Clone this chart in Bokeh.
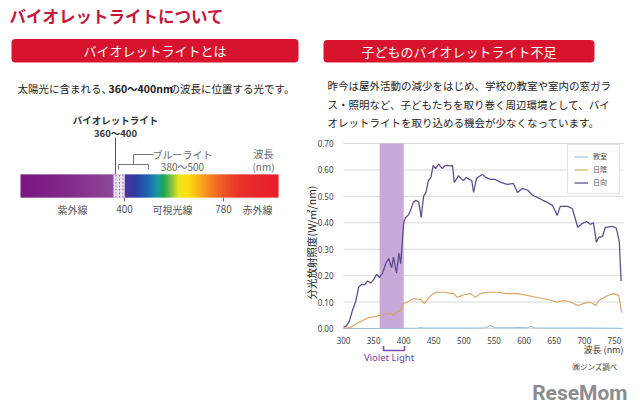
import math
from bokeh.plotting import figure
from bokeh.models import Range1d, Legend, LegendItem
from bokeh.core.properties import value
from bokeh.embed import file_html
from bokeh.resources import INLINE

JP = "Noto Sans CJK JP"

# ---------------- texts ----------------
title_text = "バイオレットライトについて"
left_header = "バイオレットライトとは"
right_header = "子どものバイオレットライト不足"
intro_pre = "太陽光に含まれる、"
intro_bold = "360〜400nm"
intro_post = "の波長に位置する光です。"
paragraph_lines = [
    "昨今は屋外活動の減少をはじめ、学校の教室や室内の窓ガラ",
    "ス・照明など、子どもたちを取り巻く周辺環境として、バイ",
    "オレットライトを取り込める機会が少なくなっています。",
]
violet_label = ["バイオレットライト", "360〜400"]
blue_label = ["ブルーライト", "380〜500"]
wave_label = ["波長", "(nm)"]
spectrum_labels = ["紫外線", "400", "可視光線", "780", "赤外線"]
y_axis_label = "分光放射照度(W/㎡/nm)"
x_axis_label = "波長 (nm)"
band_label = "Violet Light"
source_note = "㈱ジンズ調べ"
logo_text = "ReseMom"

# ---------------- chart data ----------------
series_names = ["教室", "日陰", "日向"]
series_colors = ["#93bfd8", "#d9a35f", "#5d4a8c"]

nm_room = [300, 400, 425, 428, 431, 440, 500, 536, 544, 551, 580, 590, 600, 606, 611, 616, 650, 700, 762]
val_room = [0.0, 0.001, 0.002, 0.004, 0.002, 0.002, 0.002, 0.003, 0.011, 0.003, 0.003, 0.004, 0.003,
            0.003, 0.009, 0.003, 0.002, 0.002, 0.001]

nm_shade = [300, 312, 325, 340, 353, 361, 370, 378, 383, 389, 395, 400, 406, 416, 428, 434, 445, 453,
            466, 483, 489, 500, 511, 519, 528, 539, 556, 572, 589, 606, 622, 639, 655, 666, 677, 689,
            699, 710, 719, 724, 739, 749, 757, 762]
val_shade = [0.0, 0.005, 0.023, 0.04, 0.046, 0.05, 0.055, 0.058, 0.05, 0.062, 0.068, 0.095, 0.10,
             0.113, 0.11, 0.095, 0.125, 0.137, 0.137, 0.132, 0.118, 0.128, 0.132, 0.118, 0.133, 0.137,
             0.137, 0.132, 0.132, 0.125, 0.117, 0.11, 0.10, 0.106, 0.10, 0.087, 0.095, 0.10, 0.087,
             0.106, 0.125, 0.132, 0.125, 0.06]

nm_sun = [300, 305, 310, 315, 320, 325, 330, 335, 340, 345, 350, 355, 360, 365, 370, 375, 380, 383,
          388, 392, 395, 398, 400, 403, 408, 411, 416, 420, 425, 429, 433, 437, 441, 445, 449, 453,
          458, 464, 468, 473, 478, 481, 484, 491, 495, 499, 504, 508, 513, 516, 521, 525, 531, 536,
          544, 552, 561, 572, 582, 589, 597, 606, 614, 622, 631, 639, 647, 655, 660, 672, 680, 689,
          697, 704, 710, 715, 720, 724, 730, 735, 747, 753, 758, 761]
val_sun = [0.005, 0.01, 0.03, 0.07, 0.10, 0.155, 0.167, 0.165, 0.18, 0.172, 0.185, 0.205, 0.193,
           0.21, 0.245, 0.265, 0.23, 0.27, 0.21, 0.285, 0.245, 0.34, 0.40, 0.42, 0.43, 0.445, 0.478,
           0.485, 0.478, 0.42, 0.50, 0.515, 0.56, 0.57, 0.617, 0.605, 0.622, 0.605, 0.615, 0.617,
           0.615, 0.617, 0.553, 0.578, 0.568, 0.56, 0.572, 0.565, 0.56, 0.515, 0.568, 0.575, 0.583,
           0.572, 0.564, 0.564, 0.553, 0.545, 0.549, 0.515, 0.53, 0.523, 0.504, 0.496, 0.485, 0.477,
           0.466, 0.428, 0.462, 0.462, 0.454, 0.383, 0.398, 0.405, 0.394, 0.40, 0.326, 0.345, 0.348,
           0.383, 0.386, 0.38, 0.33, 0.18]

violet_band = [360, 400]
x_limits = [300, 765]
y_limits = [0.0, 0.70]
x_ticks = [300, 350, 400, 450, 500, 550, 600, 650, 700, 750]
y_ticks = [0.0, 0.1, 0.2, 0.3, 0.4, 0.5, 0.6, 0.7]
x_tick_labels = [str(t) for t in x_ticks]
y_tick_labels = ["%.2f" % t for t in y_ticks]

RED = "#d7132e"
TITLE_RED = "#c4173d"

# ---------------- page figure (pixel coordinates, y downwards) ----------------
p = figure(width=640, height=418, x_range=Range1d(0, 640), y_range=Range1d(418, 0),
           output_backend="svg", toolbar_location=None, x_axis_location=None,
           y_axis_location=None, min_border=0, outline_line_color=None)
p.grid.visible = False


def txt(g, x, y, s, size, color="#333333", align="left", bold=False, font=JP, angle=0.0):
    g.text(x=[x], y=[y], text=[s], text_font=value(font), text_font_size=f"{size}px",
           text_color=color, text_align=align, text_baseline="middle",
           text_font_style="bold" if bold else "normal", angle=angle)


def seg(xs, ys, color="#666666", width=1.0):
    p.line(x=xs, y=ys, line_color=color, line_width=width)


# ---------------- left panel ----------------
txt(p, 9, 15, title_text, 16.5, color=TITLE_RED, bold=True)
p.quad(left=[11], right=[298], top=[38.5], bottom=[62], fill_color=RED, line_color=None,
       border_radius=4)
txt(p, 154.5, 50, left_header, 13, color="white", align="center")
txt(p, 17, 88, intro_pre, 10.5, color="#222222")
txt(p, 108, 88, intro_bold, 10.5, color="#222222", bold=True)
txt(p, 169, 88, intro_post, 10.5, color="#222222")

# spectrum gradient bar
stops = [(20, "#7b1780"), (60, "#80268a"), (100, "#8a3f95"), (113, "#8f4a9b"),
         (124, "#4d3597"), (135, "#2e3f9f"), (145, "#1f5cb0"), (152, "#1b7db0"),
         (158, "#14a09a"), (163, "#1ea350"), (171, "#80c241"), (178, "#e8e21c"),
         (186, "#fbe40e"), (195, "#fbbf18"), (207, "#f58b1f"), (222, "#ee5a24"),
         (238, "#e8322a"), (278, "#e61e2b")]


def rgb(h):
    return tuple(int(h[i:i + 2], 16) for i in (1, 3, 5))


def col_at(x):
    for (xa, ca), (xb, cb) in zip(stops[:-1], stops[1:]):
        if xa <= x <= xb:
            t = (x - xa) / (xb - xa) if xb > xa else 0
            a, b = rgb(ca), rgb(cb)
            return "#%02x%02x%02x" % tuple(int(round(a[i] + (b[i] - a[i]) * t)) for i in range(3))
    return stops[-1][1]


ls, rs, cs = [], [], []
x = 20.0
while x < 278:
    if not (113 <= x < 124):
        ls.append(x)
        rs.append(min(x + 1.6, 278))
        cs.append(col_at(x + 0.5))
    x += 1.0
p.quad(left=ls, right=rs, top=174, bottom=197, fill_color=cs, line_color=None)
p.quad(left=[113], right=[124], top=[174], bottom=[197], fill_color="#8f5ea4", line_color=None,
       hatch_pattern="/", hatch_color="white", hatch_scale=3.5, hatch_weight=1.3)

# violet light marker
seg([115, 115], [137, 174], color="#555555", width=1)
txt(p, 115, 119, violet_label[0], 9.5, color="#333333", align="center", bold=True)
txt(p, 115, 132, violet_label[1], 9.5, color="#333333", align="center", bold=True)

# blue light bracket
seg([118, 118, 148, 148], [169, 164, 164, 169], color="#777777", width=1)
seg([133, 133, 153], [164, 154, 154], color="#777777", width=1)
txt(p, 182, 154, blue_label[0], 10, color="#666666", align="center")
txt(p, 182, 166, blue_label[1], 10, color="#666666", align="center")
txt(p, 263, 153, wave_label[0], 10, color="#666666", align="center")
txt(p, 263, 166, wave_label[1], 10, color="#666666", align="center")

# ticks and labels under the bar
seg([124, 124], [197, 201], color="#777777", width=1)
seg([223, 223], [197, 201], color="#777777", width=1)
for lx, s in zip([72, 124, 172, 223, 257], spectrum_labels):
    txt(p, lx, 208.5, s, 10, color="#555555", align="center")

# ---------------- right header ----------------
p.quad(left=[323], right=[594], top=[39.5], bottom=[62], fill_color=RED, line_color=None,
       border_radius=4)
txt(p, 458.5, 51, right_header, 13, color="white", align="center")
for ly, s in zip([85, 103.5, 122], paragraph_lines):
    txt(p, 327, ly, s, 10.5, color="#222222")

# ---------------- chart (own scales mapped into its plot box) ----------------
sub = p.subplot(x_source=Range1d(*x_limits), y_source=Range1d(*y_limits),
                x_target=Range1d(343, 623), y_target=Range1d(328, 143))

sub.segment(x0=[x_limits[0]] * len(y_ticks), x1=[x_limits[1]] * len(y_ticks), y0=y_ticks,
            y1=y_ticks, line_color="#d9d9d9", line_width=1)
sub.quad(left=[violet_band[0]], right=[violet_band[1]], bottom=[y_limits[0]],
         top=[y_limits[1]], fill_color="#c8a9da", line_color=None)
r_room = sub.line(nm_room, val_room, line_color=series_colors[0], line_width=1.1)
r_shade = sub.line(nm_shade, val_shade, line_color=series_colors[1], line_width=1.1)
r_sun = sub.line(nm_sun, val_sun, line_color=series_colors[2], line_width=1.25)

# tick labels
sub.text(x=[x_limits[0]] * len(y_ticks), y=y_ticks, text=y_tick_labels, x_offset=-10,
         text_align="right", text_baseline="middle", text_font=value("Noto Sans"),
         text_font_size="8px", text_color="#444444")
sub.text(x=x_ticks, y=[y_limits[0]] * len(x_ticks), text=x_tick_labels, y_offset=12,
         text_align="center", text_baseline="middle", text_font=value("Noto Sans"),
         text_font_size="8px", text_color="#444444")

# axis titles
txt(p, 310.5, 242, y_axis_label, 10.5, color="#222222", align="center", angle=math.pi / 2)
txt(p, 623, 349, x_axis_label, 9, color="#333333", align="right")

legend = Legend(items=[LegendItem(label=series_names[0], renderers=[r_room]),
                       LegendItem(label=series_names[1], renderers=[r_shade]),
                       LegendItem(label=series_names[2], renderers=[r_sun])],
                location=(567, 224), padding=6, spacing=3, margin=0, glyph_width=14,
                glyph_height=9, label_height=9, label_standoff=5, label_text_font=JP,
                label_text_font_size="7px", label_text_color="#555555",
                border_line_color="#c8c8c8", background_fill_alpha=1.0)
p.add_layout(legend)

# ---------------- footer ----------------
seg([383, 383, 404, 404], [345.5, 350, 350, 345.5], color="#7b4fa8", width=1.6)
txt(p, 388.5, 357, band_label, 9.5, color="#6e46a0", align="center", font="Noto Sans")
txt(p, 617, 366, source_note, 7.5, color="#444444", align="right")
txt(p, 627, 392.5, logo_text, 21, color="#8c8c8c", align="right", bold=True, font="Roboto")

open("out.html", "w").write(file_html(p, INLINE))
